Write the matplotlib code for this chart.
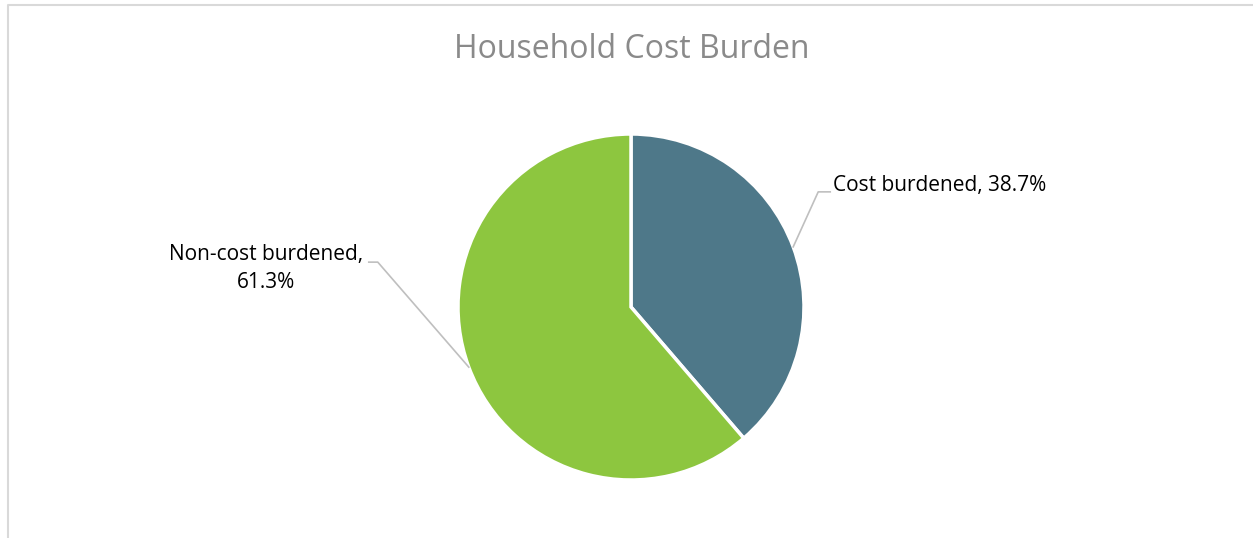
import numpy as np
import matplotlib.pyplot as plt
from matplotlib.lines import Line2D

labels = ['Cost burdened', 'Non-cost burdened']
values = [38.7, 61.3]
colors = ['#4e7889', '#8dc63f']

W, H = 1253, 538
CX, CY, R = 631, H - 307, 173

fig = plt.figure(figsize=(W / 100, H / 100), dpi=100)
ax = fig.add_axes([0, 0, 1, 1])

# chart border (only top and left visible)
bx, by = 7.5 / W, 1 - 4.5 / H
fig.lines.append(Line2D([bx, bx, 1.0], [0, by, by], transform=fig.transFigure,
                        color='#d9d9d9', linewidth=1.5))

wedges, _ = ax.pie(values, colors=colors, startangle=90, counterclock=False,
                   center=(CX, CY), radius=R,
                   wedgeprops=dict(edgecolor='white', linewidth=2.5))
# pie() resets the limits, so set them afterwards
ax.set_xlim(0, W)
ax.set_ylim(0, H)
ax.set_aspect('equal')
ax.axis('off')

ax.text(W / 2 + 5, H - 49, 'Household Cost Burden', ha='center', va='center',
        fontsize=23, color='#8a8a8a', family='Open Sans')

# leader lines + labels
elbows = [(25, 55, 12), (-91, 105, -9)]
for w, lab, val, (dx, dy, hx) in zip(wedges, labels, values, elbows):
    ang = np.deg2rad((w.theta1 + w.theta2) / 2)
    x0 = CX + R * np.cos(ang)
    y0 = CY + R * np.sin(ang)
    x1, y1 = x0 + dx, y0 + dy
    x2 = x1 + hx
    ax.plot([x0, x1, x2], [y0, y1, y1], color='#bfbfbf', lw=1.2)
    if hx > 0:
        ax.text(x2 + 3, y1 + 6, '%s, %.1f%%' % (lab, val), ha='left',
                va='center', fontsize=15, family='Open Sans', color='black')
    else:
        ax.text(x2 - 103, y1 - 6.5, '%s,\n%.1f%%' % (lab, val), ha='center',
                va='center', fontsize=15, family='Open Sans', color='black',
                linespacing=1.45)

fig.savefig('out.png', dpi=100)
